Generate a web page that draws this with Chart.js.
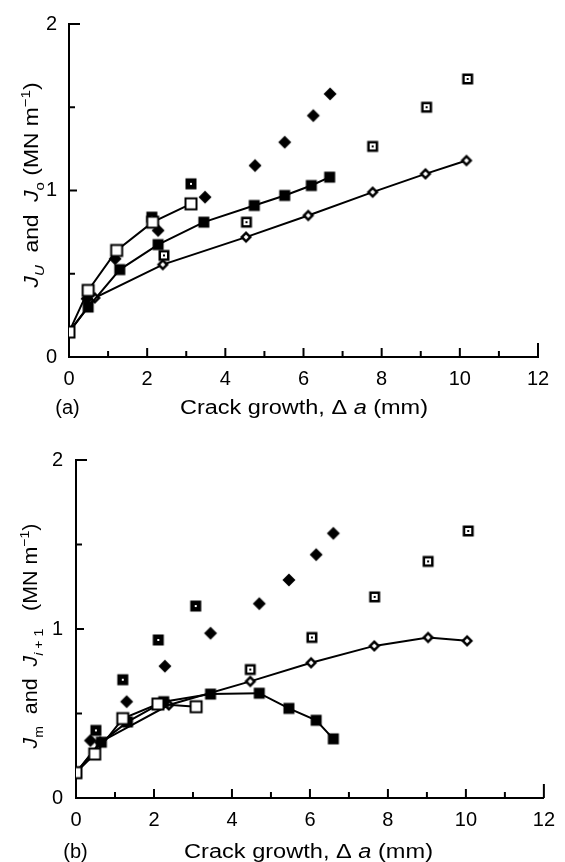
<!DOCTYPE html>
<html><head><meta charset="utf-8">
<script src="https://cdn.jsdelivr.net/npm/chart.js@4.4.0/dist/chart.umd.min.js"></script>
<style>
html,body{margin:0;padding:0;background:#fff;}
#wrap{position:relative;width:565px;height:862px;overflow:hidden;}
canvas{position:absolute;left:0;}
#ca{top:0;} #cb{top:431px;}
</style></head><body>
<div id="wrap"><canvas id="ca" width="565" height="431"></canvas><canvas id="cb" width="565" height="431"></canvas></div>
<script>
// ---------- DATA ----------
const xTickValues = [0, 2, 4, 6, 8, 10, 12];
const yTickValues = [0, 1, 2];

// Panel (a)
const aOpenSqX   = [0, 0.49, 1.22, 2.14, 3.12];
const aOpenSqY   = [0.15, 0.40, 0.64, 0.81, 0.92];
const aFillSqX   = [0, 0.49, 1.30, 2.28, 3.45, 4.74, 5.52, 6.20, 6.67];
const aFillSqY   = [0.15, 0.30, 0.525, 0.675, 0.81, 0.91, 0.97, 1.03, 1.08];
const aOpenDiX   = [0, 0.66, 2.40, 4.53, 6.12, 7.77, 9.12, 10.17];
const aOpenDiY   = [0.15, 0.355, 0.555, 0.72, 0.85, 0.99, 1.10, 1.18];
const aFillDiX   = [0.46, 1.18, 2.28, 3.48, 4.76, 5.52, 6.25, 6.68];
const aFillDiY   = [0.35, 0.59, 0.76, 0.96, 1.15, 1.29, 1.45, 1.58];
const aDarkDotX  = [2.12, 3.12];
const aDarkDotY  = [0.84, 1.04];
const aOpenDotX  = [2.43, 4.54, 7.77, 9.15, 10.2];
const aOpenDotY  = [0.61, 0.81, 1.265, 1.50, 1.67];

// Panel (b)
const bOpenSqX   = [0, 0.48, 1.20, 2.10, 3.08];
const bOpenSqY   = [0.15, 0.26, 0.47, 0.556, 0.54];
const bFillSqX   = [0, 0.65, 1.32, 2.25, 3.45, 4.70, 5.46, 6.16, 6.60];
const bFillSqY   = [0.15, 0.33, 0.45, 0.57, 0.615, 0.62, 0.53, 0.46, 0.35];
const bOpenDiX   = [0, 0.62, 2.38, 4.47, 6.03, 7.65, 9.03, 10.03];
const bOpenDiY   = [0.15, 0.33, 0.55, 0.69, 0.80, 0.90, 0.95, 0.93];
const bFillDiX   = [0.37, 1.30, 2.28, 3.45, 4.70, 5.46, 6.16, 6.60];
const bFillDiY   = [0.34, 0.57, 0.78, 0.975, 1.15, 1.29, 1.44, 1.566];
const bDarkDotX  = [0.51, 1.20, 2.11, 3.07];
const bDarkDotY  = [0.40, 0.70, 0.935, 1.136];
const bOpenDotX  = [4.47, 6.05, 7.66, 9.03, 10.06];
const bOpenDotY  = [0.76, 0.95, 1.19, 1.40, 1.58];

// ---------- MARKERS ----------
function mk(size, draw){const c=document.createElement('canvas');c.width=size;c.height=size;const g=c.getContext('2d');draw(g,size/2);return c;}
function diamond(g,c,r){g.beginPath();g.moveTo(c,c-r);g.lineTo(c+r,c);g.lineTo(c,c+r);g.lineTo(c-r,c);g.closePath();g.fill();}
const M = {
  openSq: mk(16,(g,c)=>{g.fillStyle='#fff';g.fillRect(c-5.5,c-5.5,11,11);g.strokeStyle='#000';g.lineWidth=2;g.strokeRect(c-5.5,c-5.5,11,11);}),
  fillSq: mk(14,(g,c)=>{g.fillStyle='#000';g.fillRect(c-5.5,c-5.5,11,11);}),
  darkDot: mk(14,(g,c)=>{g.fillStyle='#000';g.fillRect(c-5.5,c-5.5,11,11);g.fillStyle='#fff';g.fillRect(c-1,c-1,2,2);}),
  openDot: mk(14,(g,c)=>{g.fillStyle='#000';g.fillRect(c-5.5,c-5.5,11,11);g.fillStyle='#fff';g.fillRect(c-3,c-3,6,6);g.fillStyle='#000';g.fillRect(c-1,c-1,2,2);}),
  fillDi: mk(16,(g,c)=>{g.fillStyle='#000';diamond(g,c,6.5);}),
  openDi: mk(16,(g,c)=>{g.fillStyle='#000';diamond(g,c,6);g.fillStyle='#fff';diamond(g,c,2.5);})
};

const pts = (xs, ys) => xs.map((v, i) => ({x: v, y: ys[i]}));
function ds(data, marker, line){
  return {data, pointStyle: marker, pointRadius: 6, showLine: line, borderColor:'#000', backgroundColor:'#000', borderWidth: 2, tension: 0, fill:false};
}

const FONT = '"Liberation Sans", Arial, Helvetica, sans-serif';

function drawRich(ctx, segs, cx, cy, size, targetLen, rotate){
  ctx.save();
  ctx.translate(cx, cy);
  if (rotate) ctx.rotate(-Math.PI/2);
  let total = 0;
  const m = segs.map(s => {
    const small = s.sub || s.sup;
    const fs = size * (small ? 0.66 : 1);
    const font = (s.it ? 'italic ' : '') + fs + 'px ' + FONT;
    ctx.font = font;
    const w = ctx.measureText(s.t).width;
    total += w;
    return {t: s.t, font, w, dy: s.sub ? size*0.28 : (s.sup ? -size*0.42 : 0)};
  });
  const k = targetLen ? targetLen / total : 1;
  ctx.scale(k, 1);
  ctx.textBaseline = 'alphabetic';
  ctx.fillStyle = '#000';
  let xx = -total/2;
  const base = size*0.36;
  for (const s of m){ ctx.font = s.font; ctx.fillText(s.t, xx, base + s.dy); xx += s.w; }
  ctx.restore();
}

const decor = {
  id: 'decor',
  afterDraw(chart, args, o){
    const ctx = chart.ctx, x = chart.scales.x, y = chart.scales.y;
    ctx.save();
    ctx.strokeStyle = '#000'; ctx.lineWidth = 2; ctx.lineCap = 'butt';
    for (let v = 1; v <= 12; v++){
      const px = x.getPixelForValue(v);
      const L = v === 12 ? 14 : (v % 2 === 0 ? 9 : 6);
      ctx.beginPath(); ctx.moveTo(px, y.bottom); ctx.lineTo(px, y.bottom - L); ctx.stroke();
    }
    for (let v = 0.5; v <= 2.001; v += 0.5){
      const py = y.getPixelForValue(v);
      const L = v > 1.99 ? 11 : (Math.abs(v - 1) < 0.01 ? 8 : 6);
      ctx.beginPath(); ctx.moveTo(x.left, py); ctx.lineTo(x.left + L, py); ctx.stroke();
    }
    ctx.restore();
    drawRich(ctx, o.yTitle, o.yt[0], o.yt[1], 20, o.yt[2], true);
    drawRich(ctx, o.xTitle, o.xt[0], o.xt[1], 20, o.xt[2], false);
    drawRich(ctx, [{t:o.panel}], o.pl[0], o.pl[1], 20, 0, false);
  }
};

function makeChart(id, sets, pad, yW, xH, yPad, decorOpts){
  return new Chart(document.getElementById(id), {
    type: 'scatter',
    data: {datasets: sets},
    options: {
      responsive: false, animation: false, events: [],
      layout: {padding: pad},
      plugins: {legend: {display: false}, tooltip: {enabled: false}, decor: decorOpts},
      scales: {
        x: {type: 'linear', min: 0, max: 12,
            grid: {display: false, drawTicks: false},
            border: {display: true, color: '#000', width: 2},
            afterBuildTicks(s){ s.ticks = xTickValues.map(v => ({value: v})); },
            ticks: {padding: 10, color: '#000', font: {family: FONT, size: 20}, maxRotation: 0, autoSkip: false},
            afterFit(s){ s.height = xH; }},
        y: {type: 'linear', min: 0, max: 2,
            grid: {display: false, drawTicks: false},
            border: {display: true, color: '#000', width: 2},
            afterBuildTicks(s){ s.ticks = yTickValues.map(v => ({value: v})); },
            ticks: {padding: yPad, color: '#000', font: {family: FONT, size: 20}},
            afterFit(s){ s.width = yW; }}
      }
    },
    plugins: [decor]
  });
}

const xTitleSegs = [{t:'Crack growth, \u0394 '}, {t:'a', it:true}, {t:' (mm)'}];

makeChart('ca', [
  ds(pts(aOpenSqX, aOpenSqY), M.openSq, true),
  ds(pts(aOpenDotX, aOpenDotY), M.openDot, false),
  ds(pts(aFillDiX, aFillDiY), M.fillDi, false),
  ds(pts(aFillSqX, aFillSqY), M.fillSq, true),
  ds(pts(aOpenDiX, aOpenDiY), M.openDi, true),
  ds(pts(aDarkDotX, aDarkDotY), M.darkDot, false)
], {left: 0, right: 27, top: 19, bottom: 0}, 69, 74, 12, {
  yTitle: [{t:'J', it:true}, {t:'U', it:true, sub:true}, {t:'  and  '}, {t:'J', it:true}, {t:'o', sub:true}, {t:' (MN m'}, {t:'\u22121', sup:true}, {t:')'}],
  yt: [31, 185, 205],
  xTitle: xTitleSegs, xt: [304, 407, 248],
  panel: '(a)', pl: [67.5, 407]
});

makeChart('cb', [
  ds(pts(bOpenSqX, bOpenSqY), M.openSq, true),
  ds(pts(bOpenDotX, bOpenDotY), M.openDot, false),
  ds(pts(bFillDiX, bFillDiY), M.fillDi, false),
  ds(pts(bFillSqX, bFillSqY), M.fillSq, true),
  ds(pts(bOpenDiX, bOpenDiY), M.openDi, true),
  ds(pts(bDarkDotX, bDarkDotY), M.darkDot, false)
], {left: 0, right: 15, top: 29, bottom: 0}, 76, 64, 13, {
  yTitle: [{t:'J', it:true}, {t:'m', sub:true}, {t:'  and  '}, {t:'J', it:true}, {t:'i', it:true, sub:true}, {t:' + 1', sub:true}, {t:'   (MN m'}, {t:'\u22121', sup:true}, {t:')'}],
  yt: [30, 205, 225],
  xTitle: xTitleSegs, xt: [308.5, 420, 249],
  panel: '(b)', pl: [75.5, 420]
});
</script>
</body></html>
